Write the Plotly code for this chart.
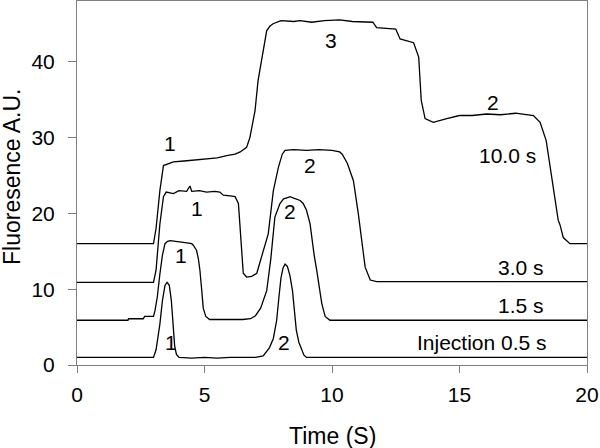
import plotly.graph_objects as go

# ---- data (time in s, fluorescence A.U.) ----
t_inj = [0, 3.0, 3.1, 3.25, 3.35, 3.45, 3.53, 3.62, 3.7, 3.77, 3.83, 3.9, 4.0, 4.5, 5.0, 5.5, 6.0,
         6.5, 7.0, 7.3, 7.55, 7.7, 7.83, 7.92, 8.0, 8.08, 8.16, 8.25, 8.35, 8.45, 8.52, 8.6, 8.7,
         8.8, 8.9, 9.0, 12.0, 16.0, 20.0]
v_inj = [1.0, 1.0, 2.0, 5.4, 8.5, 10.5, 10.9, 10.5, 8.5, 5.4, 2.5, 1.4, 1.0, 0.9, 1.0, 0.9, 1.0,
         1.0, 1.0, 1.2, 2.3, 3.5, 5.9, 9.0, 11.5, 12.8, 13.3, 13.0, 11.8, 9.8, 7.5, 4.6, 3.0,
         2.0, 1.3, 1.0, 1.0, 1.0, 1.0]

t_15 = [0, 2.0, 2.02, 2.6, 2.65, 3.0, 3.06, 3.15, 3.25, 3.35, 3.45, 3.55, 3.65, 3.8, 3.95, 4.1,
        4.3, 4.5, 4.56, 4.69, 4.76, 4.82, 4.89, 4.95, 5.05, 5.2, 6.0, 6.5, 6.8, 7.0, 7.2, 7.44,
        7.6, 7.76, 7.96, 8.1, 8.29, 8.35, 8.5, 8.75, 8.87, 9.0, 9.14, 9.2, 9.3, 9.4, 9.5, 9.6,
        9.73, 9.92, 14.0, 20.0]
v_15 = [5.9, 5.9, 6.1, 6.1, 6.4, 6.4, 7.2, 9.0, 12.0, 14.5, 16.0, 16.3, 16.4, 16.3, 16.2, 16.2,
        16.1, 16.0, 15.8, 15.1, 14.0, 12.5, 9.9, 7.5, 6.4, 6.0, 6.0, 6.0, 6.1, 6.5, 7.5, 9.8,
        14.0, 19.5, 21.3, 21.9, 22.1, 22.2, 22.0, 21.7, 21.3, 20.4, 18.6, 17.0, 14.5, 12.5, 10.0, 8.1,
        6.4, 5.9, 5.9, 5.9]

t_30 = [0, 3.0, 3.1, 3.25, 3.39, 3.5, 3.78, 4.0, 4.3, 4.43, 4.5, 4.8, 5.08, 5.4, 5.6, 5.74,
        6.0, 6.2, 6.33, 6.4, 6.52, 6.65, 6.85, 7.05, 7.24, 7.5, 7.7, 7.9, 8.05, 8.16, 8.5,
        9.0, 9.5, 10.0, 10.3, 10.4, 10.6, 10.84, 11.03, 11.3, 11.5, 11.75, 15.0, 20.0]
v_30 = [10.9, 10.9, 12.5, 18.6, 22.2, 22.8, 22.6, 23.0, 22.9, 23.6, 22.9, 23.0, 22.8, 22.9, 22.8, 22.4,
        22.3, 22.2, 21.3, 17.3, 12.1, 11.6, 11.7, 12.1, 14.3, 17.3, 23.0, 26.1, 27.8, 28.3, 28.4,
        28.3, 28.4, 28.3, 28.1, 27.8, 26.6, 24.3, 20.0, 12.9, 11.2, 11.0, 11.0, 11.0]

t_10 = [0, 3.0, 3.1, 3.25, 3.39, 3.6, 3.78, 4.2, 4.6, 5.08, 5.5, 5.87, 6.2, 6.4, 6.65, 6.78,
        6.98, 7.1, 7.24, 7.44, 7.57, 7.69, 8.0, 8.5, 8.75, 9.2, 9.7, 10.3, 10.8, 11.36, 11.6,
        11.75, 12.1, 12.5, 12.67, 13.2, 13.4, 13.5, 13.65, 13.97, 14.5, 15.0, 15.5, 16.06, 16.6,
        17.2, 17.9, 18.16, 18.4, 18.68, 18.87, 18.94, 19.07, 19.33, 20.0]
v_10 = [16.0, 16.0, 18.0, 23.0, 26.3, 26.6, 26.8, 26.9, 27.0, 27.2, 27.3, 27.6, 27.8, 28.1, 28.7, 30.0,
        33.5, 37.5, 40.1, 44.1, 44.7, 45.0, 45.4, 45.3, 45.4, 45.2, 45.4, 45.5, 45.3, 45.2, 45.2,
        44.5, 44.4, 44.3, 43.0, 42.5, 40.6, 34.9, 32.5, 32.0, 32.5, 32.9, 32.9, 33.1, 33.0,
        33.2, 32.9, 32.0, 29.6, 23.5, 19.1, 18.5, 16.8, 16.0, 16.0]

# peak labels: (x, y, text)
label_x = [3.65, 9.98, 16.3, 4.7, 9.14, 8.35, 4.08, 3.67, 8.1]
label_y = [29.2, 42.8, 34.6, 20.6, 26.3, 20.2, 14.4, 3.0, 3.0]
label_txt = ["1", "3", "2", "1", "2", "2", "1", "1", "2"]

# trace names and their label positions
series_txt = ["10.0 s", "3.0 s", "1.5 s", "Injection 0.5 s"]
series_x = [16.9, 17.4, 17.4, 15.9]
series_y = [27.6, 12.9, 7.8, 3.0]

x_title = "Time (S)"
y_title = "Fluoresence A.U."

FONT = "Arial, Liberation Sans, sans-serif"
FS = 21
FT = 23
AX = "#808080"
L, R, T, B = 77, 13, 1, 83
W, H = 600, 448
PW, PH = W - L - R, H - T - B

fig = go.Figure()
for tx, vy in [(t_inj, v_inj), (t_15, v_15), (t_30, v_30), (t_10, v_10)]:
    fig.add_trace(go.Scatter(x=tx, y=vy, mode="lines",
                             line=dict(color="black", width=1.3), showlegend=False,
                             hoverinfo="skip"))

annotations = []
for x, y, s in zip(label_x + series_x, label_y + series_y, label_txt + series_txt):
    annotations.append(dict(x=x, y=y, xref="x", yref="y", text=s, showarrow=False,
                            font=dict(family=FONT, size=FS, color="black")))

# axis titles placed as paper annotations
annotations.append(dict(x=(332 - L) / PW, y=(H - B - 436) / PH, xref="paper", yref="paper",
                        text=x_title, showarrow=False, xanchor="center", yanchor="middle",
                        font=dict(family=FONT, size=FT, color="black")))
annotations.append(dict(x=(12 - L) / PW, y=(H - B - 177) / PH, xref="paper", yref="paper",
                        text=y_title, showarrow=False, xanchor="center", yanchor="middle",
                        textangle=-90, font=dict(family=FONT, size=FT, color="black")))

fig.update_layout(
    width=W, height=H,
    margin=dict(l=L, r=R, t=T, b=B, autoexpand=False),
    paper_bgcolor="white", plot_bgcolor="white",
    font=dict(family=FONT, size=FS, color="black"),
    annotations=annotations,
    xaxis=dict(range=[0, 20], tickvals=[0, 5, 10, 15, 20], ticks="outside", ticklen=7,
               tickcolor=AX, showline=True, linecolor=AX, linewidth=1, mirror=True,
               showgrid=False, zeroline=False, automargin=False, ticklabelstandoff=4,
               tickfont=dict(family=FONT, size=FS, color="black")),
    yaxis=dict(range=[0, 48], tickvals=[0, 10, 20, 30, 40], ticks="outside", ticklen=8,
               tickcolor=AX, showline=True, linecolor=AX, linewidth=1, mirror=True,
               showgrid=False, zeroline=False, automargin=False, ticklabelstandoff=9,
               tickfont=dict(family=FONT, size=FS, color="black")),
)

fig.write_html("out.html", config={"displayModeBar": False},
               post_script="document.body.style.margin='0';document.body.style.overflow='hidden';")
